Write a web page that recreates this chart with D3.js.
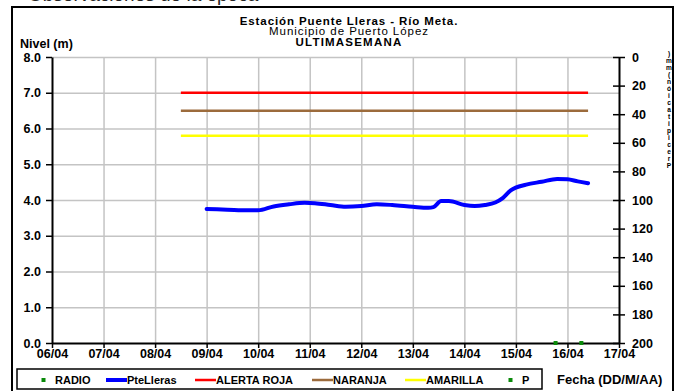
<!DOCTYPE html>
<html>
<head>
<meta charset="utf-8">
<script src="https://cdn.jsdelivr.net/npm/d3@7"></script>
<style>
  body { margin: 0; background: #fff; }
  svg { display: block; font-family: 'Liberation Sans', Arial, sans-serif; }
  .c-axis text { font-size: 12.5px; font-weight: bold; fill: #000; }
  .c-axis .domain { stroke: #000; stroke-width: 2; }
  .c-axis .tick line { stroke: #000; stroke-width: 1.5; }
  .c-grid line { stroke: #c4c4c4; stroke-width: 1.5; }
  .c-grid .domain { display: none; }
  .c-legend text { font-size: 11px; font-weight: bold; }
</style>
</head>
<body>
<div id="nivelChart"></div>
<script>
// Dias de abril (fraccion del dia) y nivel del rio en metros
const nivelDias = [9.0, 9.4, 9.8, 10.0, 10.3, 10.6, 10.9, 11.1, 11.4, 11.7, 12.0, 12.3, 12.6, 13.0,
  13.3, 13.4, 13.55, 13.7, 14.0, 14.2, 14.4, 14.6, 14.75, 14.9, 15.2, 15.5, 15.8, 16.0, 16.2, 16.4];
const nivelValores = [3.75, 3.73, 3.71, 3.71, 3.82, 3.88, 3.92, 3.91, 3.86, 3.81, 3.83, 3.88, 3.86, 3.81,
  3.78, 3.80, 3.97, 3.97, 3.86, 3.83, 3.86, 3.93, 4.06, 4.27, 4.43, 4.51, 4.59, 4.58, 4.52, 4.47];

// Umbrales de alerta
const alertaDias = [8.5, 16.4];
const alertaRoja = 7.0;
const alertaNaranja = 6.5;
const alertaAmarilla = 5.8;

// Precipitacion: puntos P sobre el eje de nivel 0
const precipDias = [15.77, 16.27];
const precipValores = [0, 0];

// Ejes
const diasTicks = [6, 7, 8, 9, 10, 11, 12, 13, 14, 15, 16, 17];
const nivelTicks = [0, 1, 2, 3, 4, 5, 6, 7, 8];
const precipTicks = [0, 20, 40, 60, 80, 100, 120, 140, 160, 180, 200];

const legendItems = [
  {label: 'RADIO', type: 'dot', color: '#0a8a0a'},
  {label: 'PteLleras', type: 'line', color: '#0000ff', width: 4},
  {label: 'ALERTA ROJA', type: 'line', color: '#ff0000', width: 2.5},
  {label: 'NARANJA', type: 'line', color: '#9c6b3c', width: 2.5},
  {label: 'AMARILLA', type: 'line', color: '#ffff00', width: 2.5},
  {label: 'P', type: 'dot', color: '#0a8a0a'}
];

class NivelChart {
  constructor () {
    this.container = d3.select('#nivelChart');
    this.width = 679;
    this.height = 391;
    this.left = 52;
    this.right = 619;
    this.top = 57;
    this.bottom = 343;
  }

  createSvg () {
    this.svg = this.container.append('svg')
      .attr('width', this.width)
      .attr('height', this.height);

    this.svg.append('defs').append('clipPath')
      .attr('id', 'frameClip')
      .append('rect')
      .attr('x', 12).attr('y', 7).attr('width', 661).attr('height', 400);
  }

  initScales () {
    this.dayScale = d3.scaleLinear().domain([6, 17]).range([this.left, this.right]);
    this.nivelScale = d3.scaleLinear().domain([0, 8]).range([this.bottom, this.top]);
    this.precipScale = d3.scaleLinear().domain([0, 200]).range([this.top, this.bottom]);
  }

  drawHeader () {
    // texto cortado de la pagina original
    this.svg.append('text')
      .attr('x', 28).attr('y', 1)
      .style('font-size', '19px').style('fill', '#222')
      .text('Observaciones de la época');

    this.svg.append('rect')
      .attr('x', 12).attr('y', 7).attr('width', 661).attr('height', 400)
      .attr('fill', 'none').attr('stroke', '#000').attr('stroke-width', 2);

    const cx = 349;
    this.svg.append('text').attr('x', cx).attr('y', 24.5).attr('text-anchor', 'middle')
      .style('font-size', '11.5px').style('font-weight', 'bold')
      .attr('letter-spacing', '0.9')
      .text('Estación Puente Lleras - Río Meta.');
    this.svg.append('text').attr('x', cx).attr('y', 35).attr('text-anchor', 'middle')
      .style('font-size', '11.5px')
      .attr('letter-spacing', '0.95')
      .text('Municipio de Puerto López');
    this.svg.append('text').attr('x', cx).attr('y', 45.5).attr('text-anchor', 'middle')
      .style('font-size', '11.5px').style('font-weight', 'bold')
      .attr('letter-spacing', '1.2')
      .text('ULTIMASEMANA');

    this.svg.append('text').attr('x', 20).attr('y', 48)
      .style('font-size', '12.5px').style('font-weight', 'bold')
      .text('Nivel (m)');

    this.svg.append('text').attr('x', 557).attr('y', 383.5)
      .style('font-size', '13px').style('font-weight', 'bold')
      .text('Fecha (DD/M/AA)');

    // titulo del eje derecho en columna, recortado por el marco
    this.svg.append('g')
      .attr('clip-path', 'url(#frameClip)')
      .append('text')
      .attr('x', 669)
      .attr('y', 50)
      .style('writing-mode', 'vertical-rl')
      .style('text-orientation', 'upright')
      .style('font-size', '6.6px').style('font-weight', 'bold')
      .attr('fill', '#000')
      .text(Array.from('Precipitación(mm)').reverse().join(''));
  }

  drawGrid () {
    this.svg.append('g')
      .attr('class', 'c-grid')
      .attr('transform', 'translate(0, ' + this.bottom + ')')
      .call(d3.axisBottom(this.dayScale).tickValues(diasTicks.slice(1, -1))
        .tickSize(-(this.bottom - this.top)).tickFormat(''));

    this.svg.append('g')
      .attr('class', 'c-grid')
      .attr('transform', 'translate(' + this.left + ', 0)')
      .call(d3.axisLeft(this.nivelScale).tickValues(nivelTicks.slice(1))
        .tickSize(-(this.right - this.left)).tickFormat(''));
  }

  drawAxes () {
    const nivelAxis = d3.axisLeft(this.nivelScale)
      .tickValues(nivelTicks).tickSize(6).tickSizeOuter(0).tickPadding(5)
      .tickFormat(d3.format('.1f'));
    const dayAxis = d3.axisBottom(this.dayScale)
      .tickValues(diasTicks).tickSize(5).tickSizeOuter(0)
      .tickFormat((d) => String(d).padStart(2, '0') + '/04');
    const precipAxis = d3.axisRight(this.precipScale)
      .tickValues(precipTicks).tickSize(6).tickSizeOuter(0).tickPadding(7);

    this.svg.append('g')
      .attr('class', 'c-axis')
      .attr('transform', 'translate(0, ' + this.bottom + ')')
      .call(dayAxis)
      .selectAll('text').attr('dy', '0.55em');

    this.svg.append('g')
      .attr('class', 'c-axis')
      .attr('transform', 'translate(' + this.left + ', 0)')
      .call(nivelAxis);

    const right = this.svg.append('g')
      .attr('class', 'c-axis')
      .attr('transform', 'translate(' + this.right + ', 0)')
      .call(precipAxis);
    right.selectAll('.tick line').attr('x1', -6);
  }

  drawAlertas () {
    const umbrales = [
      {valor: alertaRoja, color: '#ff0000'},
      {valor: alertaNaranja, color: '#9c6b3c'},
      {valor: alertaAmarilla, color: '#ffff00'}
    ];
    this.svg.append('g')
      .selectAll('line')
      .data(umbrales)
      .enter()
      .append('line')
      .attr('x1', this.dayScale(alertaDias[0]))
      .attr('x2', this.dayScale(alertaDias[1]))
      .attr('y1', (d) => this.nivelScale(d.valor))
      .attr('y2', (d) => this.nivelScale(d.valor))
      .attr('stroke', (d) => d.color)
      .attr('stroke-width', 2.5);
  }

  drawNivel () {
    const puntos = nivelDias.map((d, i) => [d, nivelValores[i]]);
    const line = d3.line()
      .x((d) => this.dayScale(d[0]))
      .y((d) => this.nivelScale(d[1]))
      .curve(d3.curveMonotoneX);

    this.svg.append('path')
      .attr('d', line(puntos))
      .attr('fill', 'none')
      .attr('stroke', '#0000ff')
      .attr('stroke-width', 4)
      .attr('stroke-linecap', 'round');
  }

  drawPrecip () {
    this.svg.append('g')
      .selectAll('rect')
      .data(precipDias)
      .enter()
      .append('rect')
      .attr('x', (d) => this.dayScale(d) - 2)
      .attr('y', (d, i) => this.nivelScale(precipValores[i]) - 2)
      .attr('width', 4)
      .attr('height', 4)
      .attr('fill', '#0a8a0a');
  }

  drawLegend () {
    const g = this.svg.append('g').attr('class', 'c-legend');
    g.append('rect')
      .attr('x', 17).attr('y', 369).attr('width', 525).attr('height', 20)
      .attr('fill', '#fff').attr('stroke', '#000').attr('stroke-width', 1.5);

    const starts = [40, 106, 195, 312, 405, 507];
    const items = g.selectAll('g.item')
      .data(legendItems)
      .enter()
      .append('g')
      .attr('class', 'item')
      .attr('transform', (d, i) => 'translate(' + starts[i] + ', 380)');

    items.filter((d) => d.type === 'dot')
      .append('rect')
      .attr('x', 1.5).attr('y', -2).attr('width', 4).attr('height', 4)
      .attr('fill', (d) => d.color);
    items.filter((d) => d.type === 'line')
      .append('line')
      .attr('x1', 0).attr('x2', 21).attr('y1', 0).attr('y2', 0)
      .attr('stroke', (d) => d.color)
      .attr('stroke-width', (d) => d.width);
    items.append('text')
      .attr('x', (d) => d.type === 'dot' ? 15 : 21)
      .attr('y', 4)
      .text((d) => d.label);
  }

  render () {
    this.createSvg();
    this.initScales();
    this.drawHeader();
    this.drawGrid();
    this.drawAlertas();
    this.drawAxes();
    this.drawNivel();
    this.drawPrecip();
    this.drawLegend();
  }
}

new NivelChart().render();
</script>
</body>
</html>
